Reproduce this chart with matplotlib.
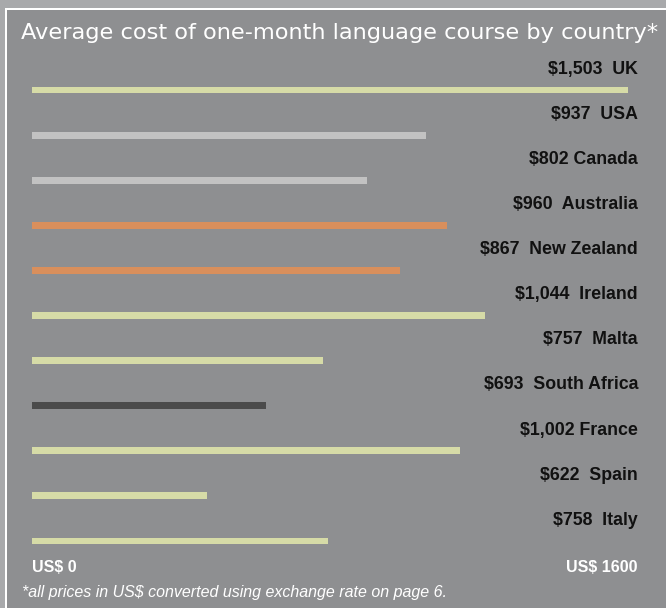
import matplotlib.pyplot as plt
from matplotlib.patches import Rectangle

# values as printed in the labels
COUNTRIES = ["UK", "USA", "Canada", "Australia", "New Zealand", "Ireland",
             "Malta", "South Africa", "France", "Spain", "Italy"]
PRICE_TEXT = ["$1,503", "$937", "$802", "$960", "$867", "$1,044",
              "$757", "$693", "$1,002", "$622", "$758"]
SEP = ["  ", "  ", " ", "  ", "  ", "  ", "  ", "  ", " ", "  ", "  "]
# bar lengths as drawn in the picture, on the US$ 0-1600 scale
BAR_LEN = [1574, 1040, 884, 1096, 972, 1196, 768, 618, 1130, 462, 782]
GROUP = ["eu", "na", "na", "oc", "oc", "eu", "eu", "af", "eu", "eu", "eu"]

COLORS = {"eu": "#d6dba7", "na": "#c2c2c2", "oc": "#d98f5c", "af": "#4b4b4b"}
BG = "#8e8f91"
OUTER = "#a8a9ab"

W, H = 666, 608
fig = plt.figure(figsize=(W / 100, H / 100), dpi=100)
fig.patch.set_facecolor(OUTER)
fig.patches.append(Rectangle((5 / W, 0), 1, 1 - 8 / H, transform=fig.transFigure,
                             facecolor="white", edgecolor="none", zorder=0))
fig.patches.append(Rectangle((7 / W, 0), 1, 1 - 10 / H, transform=fig.transFigure,
                             facecolor=BG, edgecolor="none", zorder=0))

ax = fig.add_axes([0, 0, 1, 1], zorder=2)
ax.set_facecolor("none")
# 0 at x=32px, 1600 at x=638px; rows 45.1px apart, first bar at y=90px
scale = 606 / 1600
ax.set_xlim(-32 / scale, (W - 32) / scale)
row = 45.1
ax.set_ylim((H - 90) / row, -90 / row)
ax.axis("off")

label_font = ["Liberation Sans", "DejaVu Sans"]
for i, (c, p, s, v, g) in enumerate(zip(COUNTRIES, PRICE_TEXT, SEP, BAR_LEN, GROUP)):
    ax.barh(i, v, height=0.155, color=COLORS[g], edgecolor="none")
    ax.text(1600, i - 0.46, f"{p}{s}{c}", ha="right", va="center",
            fontsize=12.8, fontweight="bold", color="#111111", family=label_font)

ax.text(0, 10.58, "US$ 0", ha="left", va="center", fontsize=11.5,
        fontweight="bold", color="white", family=label_font)
ax.text(1600, 10.58, "US$ 1600", ha="right", va="center", fontsize=11.5,
        fontweight="bold", color="white", family=label_font)

fig.text(21 / W, 1 - 33 / H, "Average cost of one-month language course by country*",
         ha="left", va="center", fontsize=16.2, color="white", family=["DejaVu Sans"],
         zorder=3)
fig.text(22 / W, 1 - 593 / H, "*all prices in US$ converted using exchange rate on page 6.",
         ha="left", va="center", fontsize=11.5, style="italic", color="white",
         family=label_font, zorder=3)

fig.savefig("out.png", dpi=100, facecolor=fig.get_facecolor())
